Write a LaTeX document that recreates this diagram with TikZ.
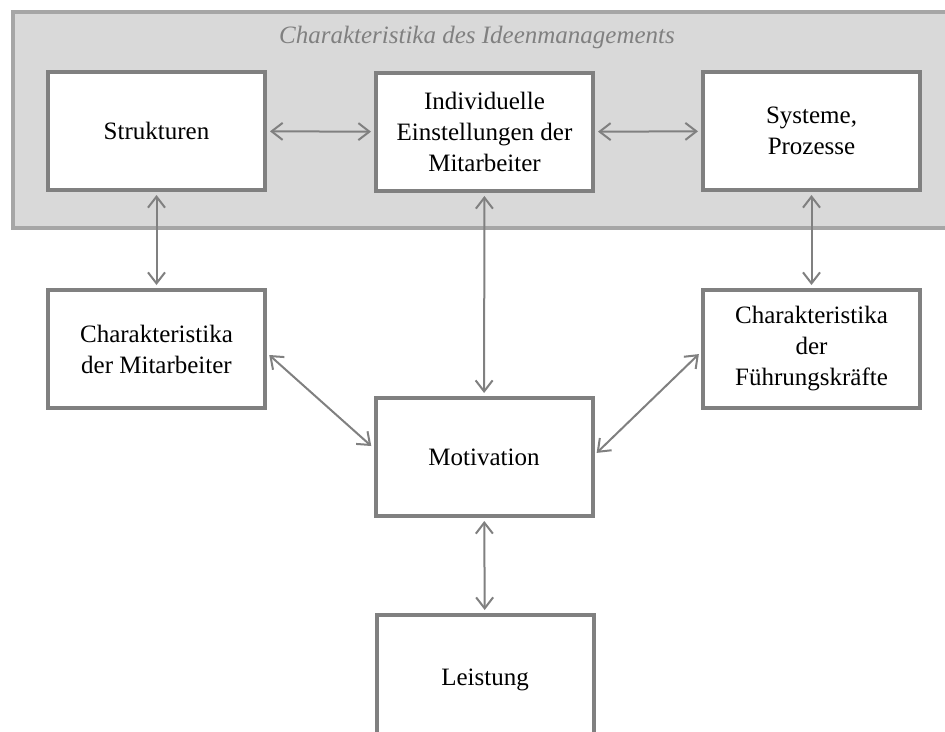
\documentclass[tikz,border=0pt]{standalone}
\usepackage{fontspec}
\setmainfont{Liberation Serif}
\usetikzlibrary{arrows.meta,calc}
\definecolor{boxgray}{HTML}{808080}
\definecolor{areagray}{HTML}{D9D9D9}
\definecolor{framegray}{HTML}{A6A6A6}

\begin{document}
\begin{tikzpicture}[x=1pt,y=-1pt,
  every node/.style={font=\fontsize{25}{31}\selectfont, align=center},
  box/.style={draw=boxgray, line width=4pt, fill=white, minimum width=217pt, minimum height=118pt},
  link/.style={draw=boxgray, line width=2pt, {Straight Barb[length=11pt,width=17pt]}-{Straight Barb[length=11pt,width=17pt]}, shorten <=3pt, shorten >=3pt}]
\useasboundingbox (0,0) rectangle (945,731);
\clip (0,0) rectangle (945,731);
\fill[white] (0,0) rectangle (945,731);
\draw[framegray, fill=areagray, line width=4pt] (13,12) rectangle (960,228);
\node[text=boxgray, font=\fontsize{25}{30}\selectfont\itshape] (title) at (477,37) {Charakteristika des Ideenmanagements};
\node[box] (struk) at (156.5,131) {Strukturen};
\node[box] (indiv) at (484.5,132) {Individuelle\\Einstellungen der\\Mitarbeiter};
\node[box] (sys) at (811.5,131) {Systeme,\\Prozesse};
\node[box] (cdm) at (156.5,349) {Charakteristika\\der Mitarbeiter};
\node[box] (cdf) at (811.5,349) {Charakteristika\\der\\Führungskräfte};
\node[box] (motiv) at (484,457) {Motivation};
\node[box, minimum height=130pt] (leist) at (485,680) {Leistung};
\draw[link] (struk) -- (indiv);
\draw[link] (indiv) -- (sys);
\draw[link] (struk) -- (cdm);
\draw[link] (sys) -- (cdf);
\draw[link] (indiv) -- (motiv);
\draw[link] (motiv) -- (leist);
\draw[link] ($(cdm.east)+(0,4)$) -- ($(motiv.west)+(0,-9)$);
\draw[link] ($(cdf.west)+(0,3)$) -- ($(motiv.east)+(0,-2)$);
\end{tikzpicture}
\end{document}
